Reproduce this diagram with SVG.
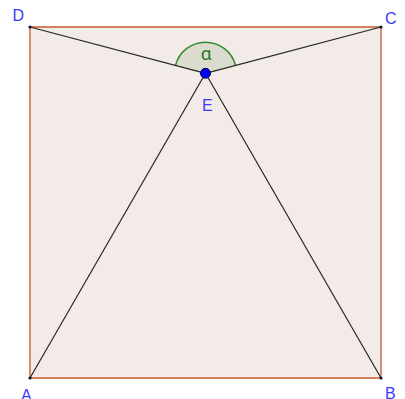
<svg xmlns="http://www.w3.org/2000/svg" width="405" height="399" viewBox="0 0 405 399">
<style>
.lbl{font-family:"Liberation Sans",Arial,sans-serif;font-size:16px;fill:#3a3aff}
.seg{stroke:#262626;stroke-width:1.2;fill:none}
.pt{fill:#111133}
</style>
<rect width="405" height="399" fill="#ffffff"/>
<g id="square">
<polygon points="30,378 381,378 381,27 30,27" fill="#f3ebe7" stroke="#d4825e" stroke-width="1.8"/>
</g>
<g id="angle">
<path d="M205.5,73.3 L175.5,65.4 A31,31 0 0 1 235.5,65.3 Z" fill="#dcdcce" stroke="none"/>
<path d="M175.5,65.4 A31,31 0 0 1 235.5,65.3" fill="none" stroke="#2e8b2e" stroke-width="1.5"/>
<text x="206" y="59.5" text-anchor="middle" font-family="Roboto,'Liberation Sans',Arial,sans-serif" font-size="19" fill="#2e7d2e">α</text>
</g>
<g id="connectors">
<line class="seg" x1="205.5" y1="73.3" x2="30" y2="27"/>
<line class="seg" x1="205.5" y1="73.3" x2="381" y2="27"/>
<line class="seg" x1="205.5" y1="73.3" x2="30" y2="378"/>
<line class="seg" x1="205.5" y1="73.3" x2="381" y2="378"/>
</g>
<g id="A"><circle class="pt" cx="30" cy="378" r="1.6"/><text class="lbl" x="21" y="401">A</text></g>
<g id="B"><circle class="pt" cx="381" cy="378" r="1.6"/><text class="lbl" x="385" y="399">B</text></g>
<g id="C"><circle class="pt" cx="381" cy="27" r="1.6"/><text class="lbl" x="385" y="24">C</text></g>
<g id="D"><circle class="pt" cx="30" cy="27" r="1.6"/><text class="lbl" x="12.5" y="21">D</text></g>
<g id="E"><circle cx="205.5" cy="73.3" r="5" fill="#0000ff" stroke="#000033" stroke-width="1"/><text class="lbl" x="202" y="110.5">E</text></g>
</svg>
